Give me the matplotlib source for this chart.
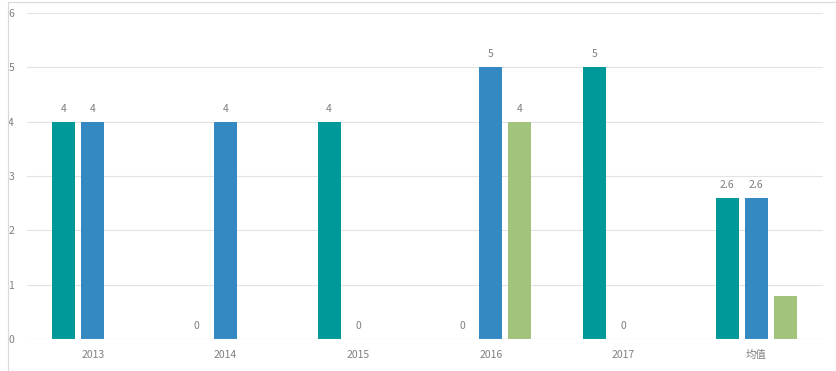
import numpy as np
import matplotlib
matplotlib.use("Agg")
import matplotlib.pyplot as plt
from matplotlib.patches import Rectangle

plt.rcParams['font.family'] = ['Noto Sans CJK SC', 'DejaVu Sans']

categories = ["2013", "2014", "2015", "2016", "2017", "均值"]
teal_vals = [4, 0, 4, 0, 5, 2.6]
blue_vals = [4, 4, 0, 5, 0, 2.6]
green_vals = [None, None, None, 4, None, 0.8]
green_labels = [None, None, None, "4", None, None]

teal = "#00999A"
blue = "#3589C3"
green = "#A2C37B"
text_gray = "#7F7F7F"

fig = plt.figure(figsize=(8.36, 3.71), dpi=100)
ax = fig.add_axes([26.5 / 836, 32 / 371, 796 / 836, 326 / 371])

x = np.arange(len(categories))
w = 0.173
off = 0.218

def fmt(v):
    return "%g" % v

for xi, v in zip(x, teal_vals):
    ax.bar(xi - off, v, width=w, color=teal, zorder=3)
    ax.text(xi - off, v + 0.15, fmt(v), ha="center", va="bottom", fontsize=7.5, color=text_gray)
for xi, v in zip(x, blue_vals):
    ax.bar(xi, v, width=w, color=blue, zorder=3)
    ax.text(xi, v + 0.15, fmt(v), ha="center", va="bottom", fontsize=7.5, color=text_gray)
for xi, v, lab in zip(x, green_vals, green_labels):
    if v is None:
        continue
    ax.bar(xi + off, v, width=w, color=green, zorder=3)
    if lab:
        ax.text(xi + off, v + 0.15, lab, ha="center", va="bottom", fontsize=7.5, color=text_gray)

ax.set_xlim(-0.5, len(categories) - 0.5)
ax.set_ylim(0, 6)
ax.set_yticks(range(7))
ax.set_xticks(x)
ax.set_xticklabels(categories)
ax.tick_params(axis="both", length=0, labelsize=7.5, colors=text_gray)
ax.tick_params(axis="x", pad=8)
ax.tick_params(axis="y", pad=9)
ax.grid(axis="y", color="#E3E3E3", linewidth=0.8, zorder=0)
for s in ax.spines.values():
    s.set_visible(False)
ax.axhline(0, color="#D9D9D9", linewidth=0.8, zorder=4)

fig.patches.append(Rectangle((8 / 836, 0), 1, 369 / 371, transform=fig.transFigure,
                             fill=False, edgecolor="#D9D9D9", linewidth=0.8))

fig.savefig("out.png", dpi=100)
